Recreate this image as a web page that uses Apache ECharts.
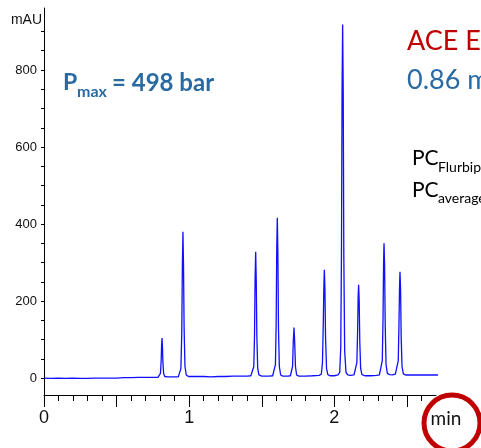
<!DOCTYPE html>
<html>
<head>
<meta charset="utf-8">
<title>Chromatogram</title>
<script src="https://cdn.jsdelivr.net/npm/echarts@6.0.0/dist/echarts.min.js"></script>
<style>
  html, body { margin: 0; padding: 0; background: #fff; }
  #chart { width: 481px; height: 448px; }
</style>
</head>
<body>
<div id="chart"></div>
<script>
// retention time (min) and absorbance (mAU)
const traceTime = [
  0, 0.05, 0.10, 0.15, 0.20, 0.25, 0.30, 0.35, 0.40, 0.45, 0.50, 0.55, 0.60, 0.65, 0.70, 0.75, 0.785,
  0.795, 0.802, 0.807, 0.810, 0.813, 0.816, 0.819, 0.824, 0.832, 0.85, 0.90, 0.925,
  0.935, 0.943, 0.949, 0.953, 0.957, 0.961, 0.965, 0.971, 0.980, 0.995,
  1.05, 1.10, 1.15, 1.20, 1.25, 1.30, 1.35, 1.40, 1.425,
  1.437, 1.445, 1.450, 1.454, 1.458, 1.462, 1.466, 1.472, 1.480, 1.490, 1.50, 1.55, 1.575,
  1.585, 1.594, 1.599, 1.603, 1.607, 1.611, 1.615, 1.621, 1.630, 1.645, 1.68, 1.697,
  1.706, 1.712, 1.717, 1.722, 1.727, 1.732, 1.740, 1.755, 1.80, 1.85, 1.895,
  1.910, 1.918, 1.924, 1.928, 1.931, 1.935, 1.939, 1.946, 1.955, 1.970, 2.00, 2.025,
  2.037, 2.044, 2.049, 2.053, 2.057, 2.061, 2.065, 2.071, 2.080, 2.092, 2.11, 2.135,
  2.147, 2.155, 2.160, 2.164, 2.167, 2.171, 2.175, 2.181, 2.190, 2.21, 2.25, 2.29, 2.31,
  2.322, 2.330, 2.335, 2.339, 2.342, 2.346, 2.350, 2.356, 2.365, 2.380, 2.40, 2.42,
  2.432, 2.440, 2.445, 2.449, 2.452, 2.456, 2.460, 2.466, 2.475, 2.49, 2.55, 2.60, 2.65, 2.70, 2.73
]
const traceAbs = [
  0, -1, 0, -1, 0, -1, -1, 0, 0, 0, 0, 1, 1, 2, 2, 2, 2,
  3, 12, 45, 85, 104, 80, 40, 12, 4, 3, 3, 3,
  5, 25, 120, 290, 380, 290, 130, 30, 8, 4,
  4, 4, 3, 4, 4, 5, 5, 5, 6,
  8, 30, 110, 260, 328, 250, 110, 25, 8, 5, 5, 5, 6,
  8, 35, 140, 330, 416, 320, 130, 30, 8, 5, 5, 6,
  8, 30, 95, 131, 90, 30, 8, 5, 5, 6, 7,
  10, 40, 150, 245, 281, 230, 110, 25, 9, 6, 6, 8,
  15, 80, 330, 750, 918, 740, 320, 70, 15, 8, 7, 8,
  12, 40, 120, 215, 242, 200, 95, 25, 9, 6, 6, 7, 8,
  12, 45, 150, 300, 350, 290, 140, 35, 12, 9, 8, 10,
  13, 45, 140, 240, 276, 230, 110, 30, 11, 8, 8, 8, 8, 8, 8
]

const yTicks = [0, 50, 100, 150, 200, 250, 300, 350, 400, 450, 500, 550, 600, 650, 700, 750, 800, 850, 900]
const yLabels = [0, 200, 400, 600, 800]
const xMinorTicks = [0, 0.1, 0.2, 0.3, 0.4, 0.5, 0.6, 0.7, 0.8, 0.9, 1, 1.1, 1.2, 1.3, 1.4, 1.5, 1.6, 1.7, 1.8, 1.9, 2, 2.1, 2.2, 2.3, 2.4, 2.5, 2.6]
const xMajorTicks = [0, 0.5, 1, 1.5, 2, 2.5]
const xLabels = [0, 1, 2]

const blue = '#2a6aa3'
const red = '#c00000'
const axisFont = 'Liberation Sans'
const noteFont = 'Lato'

function note (x, y, text, size, color, weight) {
  return {
    type: 'text',
    x: x,
    y: y,
    z: 10,
    style: {
      text: text,
      fill: color,
      font: (weight || 'normal') + ' ' + size + 'px ' + noteFont,
      align: 'left',
      verticalAlign: 'middle'
    }
  }
}

const chart = echarts.init(document.getElementById('chart'))

chart.setOption({
  animation: false,
  grid: { left: 44, right: 45, top: 8, bottom: 53 },
  xAxis: [{
    type: 'value',
    min: 0,
    max: 2.7,
    position: 'bottom',
    axisLine: { onZero: false, lineStyle: { color: '#000', width: 1 } },
    axisTick: { customValues: xMinorTicks, length: 6, lineStyle: { color: '#000' } },
    axisLabel: { customValues: xLabels, margin: 14, color: '#111', fontSize: 18, fontFamily: axisFont },
    splitLine: { show: false }
  }, {
    type: 'value',
    min: 0,
    max: 2.7,
    position: 'bottom',
    axisLine: { show: false, onZero: false },
    axisTick: { customValues: xMajorTicks, length: 12, lineStyle: { color: '#000' } },
    axisLabel: { show: false },
    splitLine: { show: false }
  }],
  yAxis: {
    type: 'value',
    min: -44,
    max: 961,
    axisLine: { show: true, onZero: false, lineStyle: { color: '#000', width: 1 } },
    axisTick: { show: true, customValues: yTicks, length: 3, lineStyle: { color: '#000' } },
    axisLabel: { customValues: yLabels, margin: 7, color: '#111', fontSize: 13, fontFamily: axisFont },
    splitLine: { show: false }
  },
  series: [{
    type: 'line',
    xAxisIndex: 0,
    data: traceTime.map((t, i) => [t, traceAbs[i]]),
    showSymbol: false,
    clip: false,
    lineStyle: { color: '#1010ff', width: 1.3 }
  }],
  graphic: [
    {
      type: 'text', x: 42, y: 20,
      style: { text: 'mAU', fill: '#111', font: '14px ' + axisFont, align: 'right', verticalAlign: 'middle' }
    },
    note(63, 83, 'P', 23, blue, 'bold'),
    note(77, 92, 'max', 16, blue, 'bold'),
    note(112, 83, '= 498 bar', 24, blue, 'bold'),
    note(407, 41.5, 'ACE Excel', 27, red),
    note(407, 80.5, '0.86 mL/min', 27, blue),
    note(412, 158, 'PC', 21, '#000'),
    note(438, 167, 'Flurbiprofen', 14, '#000'),
    note(412, 190, 'PC', 21, '#000'),
    note(438, 198, 'average', 14, '#000'),
    {
      type: 'circle',
      z: 10,
      shape: { cx: 452, cy: 423, r: 28 },
      style: { fill: '#fff', stroke: red, lineWidth: 5 }
    },
    {
      type: 'text', x: 446, y: 419, z: 11,
      style: { text: 'min', fill: '#111', font: '19px ' + noteFont, align: 'center', verticalAlign: 'middle' }
    }
  ]
})
</script>
</body>
</html>
